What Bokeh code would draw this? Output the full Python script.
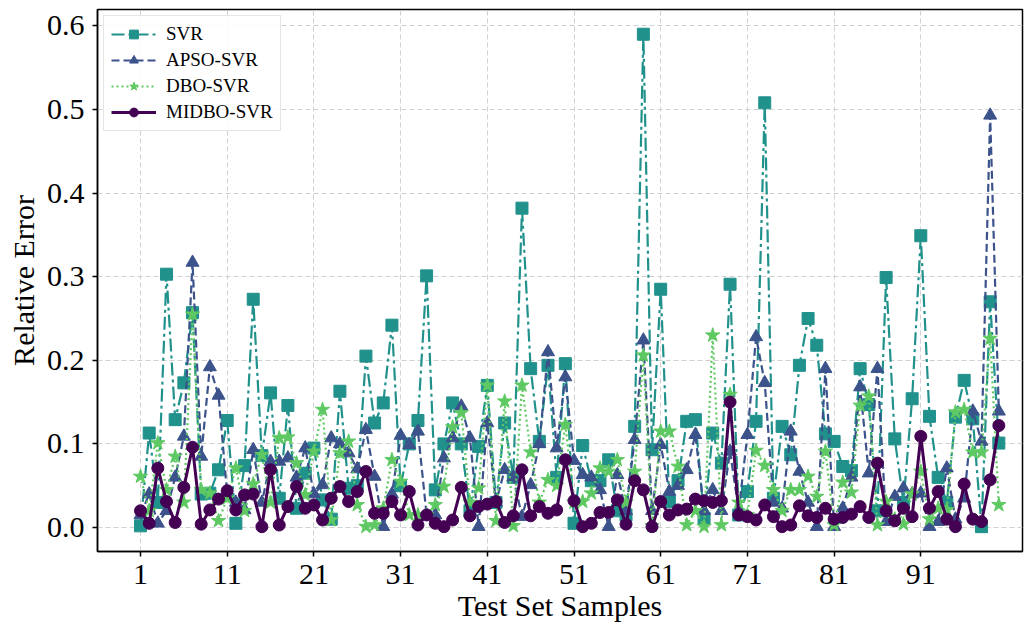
from bokeh.plotting import figure
from bokeh.models import Range1d, FixedTicker, PrintfTickFormatter, Legend
from bokeh.embed import file_html
from bokeh.resources import INLINE

samples = list(range(1, 101))

svr = [0.002, 0.113, 0.03, 0.303, 0.129, 0.173, 0.257, 0.04, 0.041, 0.069,
       0.128, 0.005, 0.074, 0.273, 0.086, 0.161, 0.035, 0.146, 0.023, 0.065,
       0.095, 0.033, 0.01, 0.163, 0.047, 0.05, 0.205, 0.125, 0.149, 0.242,
       0.05, 0.1, 0.128, 0.301, 0.045, 0.1, 0.149, 0.1, 0.02, 0.097,
       0.17, 0.03, 0.125, 0.06, 0.382, 0.19, 0.103, 0.194, 0.06, 0.196,
       0.005, 0.098, 0.056, 0.056, 0.081, 0.02, 0.015, 0.121, 0.59, 0.093,
       0.285, 0.031, 0.056, 0.127, 0.129, 0.011, 0.113, 0.077, 0.291, 0.015,
       0.043, 0.127, 0.508, 0.035, 0.121, 0.087, 0.194, 0.25, 0.218, 0.112,
       0.103, 0.073, 0.068, 0.19, 0.147, 0.02, 0.299, 0.106, 0.03, 0.154,
       0.349, 0.133, 0.06, 0.03, 0.132, 0.176, 0.13, 0.001, 0.27, 0.101]

apso = [0.015, 0.04, 0.005, 0.02, 0.06, 0.109, 0.317, 0.085, 0.192, 0.158,
        0.04, 0.03, 0.021, 0.093, 0.03, 0.079, 0.079, 0.083, 0.06, 0.095,
        0.04, 0.051, 0.107, 0.1, 0.089, 0.07, 0.117, 0.061, 0.001, 0.04,
        0.11, 0.099, 0.115, 0.015, 0.015, 0.083, 0.107, 0.145, 0.107, 0.001,
        0.125, 0.03, 0.069, 0.06, 0.013, 0.051, 0.1, 0.21, 0.095, 0.18,
        0.08, 0.063, 0.06, 0.045, 0.001, 0.063, 0.02, 0.105, 0.224, 0.02,
        0.099, 0.043, 0.05, 0.069, 0.111, 0.02, 0.045, 0.02, 0.091, 0.02,
        0.111, 0.228, 0.173, 0.03, 0.023, 0.115, 0.067, 0.03, 0.001, 0.19,
        0.001, 0.023, 0.06, 0.168, 0.065, 0.19, 0.007, 0.037, 0.047, 0.04,
        0.041, 0.001, 0.007, 0.071, 0.01, 0.035, 0.139, 0.103, 0.493, 0.139]

dbo = [0.061, 0.02, 0.101, 0.045, 0.085, 0.03, 0.255, 0.045, 0.041, 0.008,
       0.035, 0.071, 0.02, 0.052, 0.087, 0.03, 0.107, 0.108, 0.077, 0.039,
       0.091, 0.141, 0.009, 0.089, 0.103, 0.027, 0.001, 0.003, 0.023, 0.081,
       0.055, 0.015, 0.015, 0.015, 0.027, 0.049, 0.12, 0.137, 0.03, 0.047,
       0.17, 0.008, 0.151, 0.002, 0.17, 0.09, 0.03, 0.057, 0.05, 0.123,
       0.03, 0.031, 0.041, 0.071, 0.067, 0.081, 0.03, 0.067, 0.206, 0.002,
       0.115, 0.115, 0.073, 0.003, 0.02, 0.001, 0.23, 0.003, 0.159, 0.03,
       0.015, 0.092, 0.074, 0.045, 0.02, 0.045, 0.045, 0.061, 0.037, 0.091,
       0.003, 0.054, 0.042, 0.146, 0.157, 0.003, 0.031, 0.01, 0.004, 0.04,
       0.067, 0.01, 0.023, 0.021, 0.138, 0.141, 0.09, 0.09, 0.226, 0.027]

midbo = [0.02, 0.005, 0.071, 0.031, 0.006, 0.048, 0.096, 0.004, 0.021, 0.034,
         0.044, 0.021, 0.039, 0.04, 0.001, 0.069, 0.003, 0.025, 0.049, 0.023,
         0.027, 0.009, 0.035, 0.049, 0.031, 0.043, 0.067, 0.017, 0.017, 0.031,
         0.015, 0.043, 0.003, 0.015, 0.005, 0.001, 0.009, 0.048, 0.014, 0.025,
         0.028, 0.031, 0.006, 0.014, 0.069, 0.014, 0.025, 0.017, 0.021, 0.081,
         0.032, 0.001, 0.005, 0.018, 0.018, 0.033, 0.004, 0.056, 0.045, 0.001,
         0.031, 0.015, 0.021, 0.022, 0.034, 0.032, 0.03, 0.032, 0.15, 0.015,
         0.013, 0.009, 0.027, 0.013, 0.001, 0.003, 0.026, 0.014, 0.012, 0.023,
         0.01, 0.012, 0.016, 0.025, 0.012, 0.077, 0.02, 0.008, 0.023, 0.013,
         0.109, 0.023, 0.043, 0.01, 0.001, 0.052, 0.01, 0.007, 0.057, 0.122]

x_ticks = [1, 11, 21, 31, 41, 51, 61, 71, 81, 91]
y_ticks = [0.0, 0.1, 0.2, 0.3, 0.4, 0.5, 0.6]

FONT = "Liberation Serif"

p = figure(width=1030, height=628, output_backend="svg", toolbar_location=None,
           x_range=Range1d(-3.96, 102.73), y_range=Range1d(-0.0287, 0.6196),
           min_border_left=97, min_border_right=8, min_border_top=9, min_border_bottom=77)
p.background_fill_color = "white"
p.border_fill_color = "white"
p.outline_line_color = "black"
p.outline_line_width = 1.5

series = [
    ("SVR", svr, "#21918c", "13 4 3 4", 2.2, "square", 12),
    ("APSO-SVR", apso, "#3b528b", "8 4", 2.2, "triangle", 13),
    ("DBO-SVR", dbo, "#5ec962", "2 3", 2.2, "star", 15),
    ("MIDBO-SVR", midbo, "#440154", "solid", 3.0, "circle", 12),
]
items = []
for name, ys, col, dash, lw, mk, sz in series:
    r1 = p.line(samples, ys, line_color=col, line_dash=dash, line_width=lw)
    r2 = p.scatter(samples, ys, marker=mk, size=sz, fill_color=col, line_color=col)
    items.append((name, [r1, r2]))

legend = Legend(items=items, location="top_left", margin=6)
legend.label_text_font = FONT
legend.label_text_font_size = "19px"
legend.label_text_color = "black"
legend.glyph_width = 45
legend.glyph_height = 22
legend.label_height = 22
legend.label_standoff = 10
legend.spacing = 4
legend.padding = 7
legend.border_line_color = "#cccccc"
legend.border_line_width = 1.5
legend.background_fill_alpha = 0.85
p.add_layout(legend)

p.xaxis.ticker = FixedTicker(ticks=x_ticks)
p.yaxis.ticker = FixedTicker(ticks=y_ticks)
p.yaxis.formatter = PrintfTickFormatter(format="%.1f")
p.xaxis.axis_label = "Test Set Samples"
p.yaxis.axis_label = "Relative Error"
for ax in (p.xaxis, p.yaxis):
    ax.axis_label_text_font = FONT
    ax.axis_label_text_font_style = "normal"
    ax.axis_label_text_font_size = "30px"
    ax.major_label_text_font = FONT
    ax.major_label_text_font_size = "30px"
    ax.major_tick_out = 5
    ax.major_tick_in = 0
    ax.major_tick_line_width = 1.5
    ax.axis_line_width = 1.5
    ax.minor_tick_line_color = None
    ax.axis_line_color = "black"
    ax.major_tick_line_color = "black"
    ax.major_label_text_color = "black"
    ax.axis_label_text_color = "black"
p.xaxis.axis_label_standoff = 2
p.yaxis.axis_label_standoff = 4
p.xaxis.major_label_standoff = 8
p.yaxis.major_label_standoff = 8

for g in (p.xgrid, p.ygrid):
    g.grid_line_color = "#d0d0d0"
    g.grid_line_dash = "5 3"
    g.grid_line_width = 1

open("out.html", "w").write(file_html(p, INLINE))
